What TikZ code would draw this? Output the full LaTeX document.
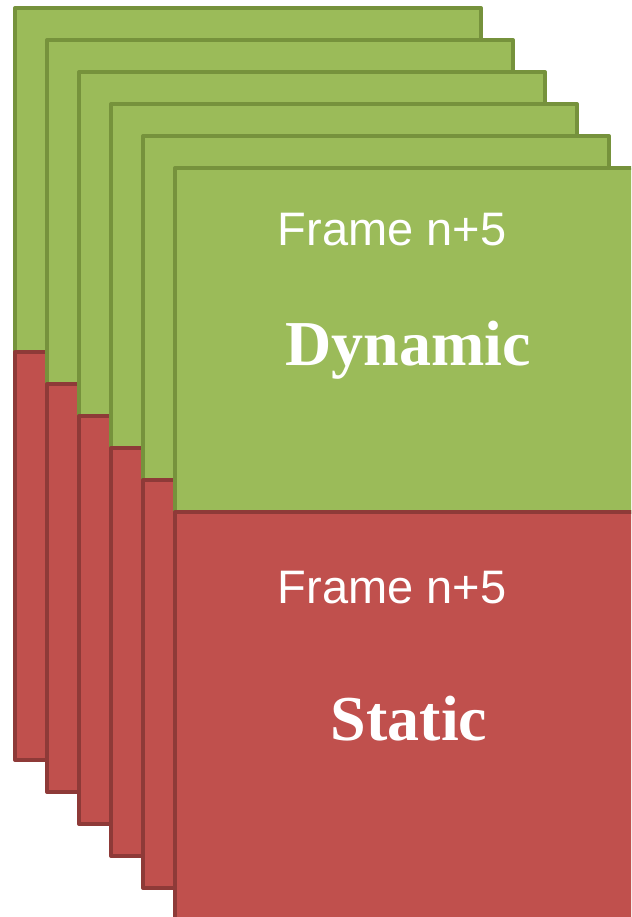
\documentclass[tikz,border=0pt]{standalone}
\usepackage{fontspec}
\setmainfont{Liberation Serif}
\newfontfamily\arialfont{Liberation Sans}
\usepackage{tikz}
\usetikzlibrary{positioning}
\definecolor{dyngreen}{HTML}{9BBB59}
\definecolor{dynline}{HTML}{76923C}
\definecolor{statred}{HTML}{C0504D}
\definecolor{statline}{HTML}{8E3A38}

\begin{document}
\begin{tikzpicture}[
  x=1pt, y=-1pt, line join=round,
  gp/.style={draw=dynline, fill=dyngreen, line width=4pt, inner sep=0pt, outer sep=0pt, anchor=north west, minimum width=466pt, minimum height=344pt},
  rp/.style={draw=statline, fill=statred, line width=4pt, inner sep=0pt, outer sep=0pt, anchor=north west, minimum width=466pt, minimum height=408pt},
  fl/.style={text=white, font=\arialfont\fontsize{47}{50}\selectfont, anchor=base, inner sep=0pt},
  kl/.style={text=white, font=\bfseries\fontsize{64}{68}\selectfont, anchor=base, inner sep=0pt}
]
\useasboundingbox (0,0) rectangle (631,917);
\clip (0,0) rectangle (631,917);
\foreach \i in {0,...,5} {
  \node[gp] (g\i) at (15+32*\i, 8+32*\i) {};
  \node[rp] (r\i) at (g\i.south west) {};
}
\node[fl] (ftop) at (392,245) {Frame n+5};
\node[kl] (dyn) at (408,365) {Dynamic};
\node[fl] (fbot) at (392,603) {Frame n+5};
\node[kl] (stat) at (409,740) {Static};
\end{tikzpicture}
\end{document}
